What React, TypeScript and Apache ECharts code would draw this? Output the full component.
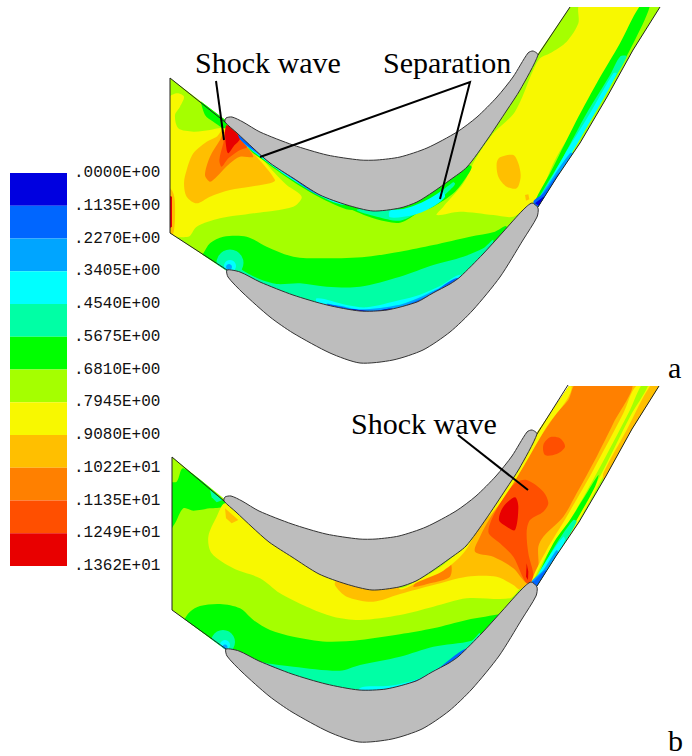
import React, { useEffect, useRef } from "react";
import * as echarts from "echarts";

type P = number[][];
// helpers: read-off units of the magnified inspections, expressed in plot units
const pairs = (ox: number, oy: number, a: number[]): P => {
  const r: P = [];
  for (let i = 0; i < a.length; i += 2) r.push([ox + a[i] / 3, oy + a[i + 1] / 3]);
  return r;
};
const z1 = (...a: number[]) => pairs(160, 0, a);
const z2 = (...a: number[]) => pairs(400, 0, a);
const z3 = (...a: number[]) => pairs(160, 440, a);
const z4 = (...a: number[]) => pairs(400, 380, a);
const shift = (p: P, dx: number, dy: number): P => p.map(([x, y]) => [x + dx, y + dy]);

const levelColors = ["#0000e0", "#0066ff", "#00a5ff", "#00ffff", "#00ffa5", "#00ff00", "#a5ff00", "#f8f800", "#ffbf00", "#ff8000", "#ff4f00", "#e80000"];
const legendLabels = [".0000E+00", ".1135E+00", ".2270E+00", ".3405E+00", ".4540E+00", ".5675E+00", ".6810E+00", ".7945E+00", ".9080E+00", ".1022E+01", ".1135E+01", ".1249E+01", ".1362E+01"];

const upperBladeA: P = [[225, 122], [226, 118], [232, 117], [243, 122], [260, 132], [293, 145], [327, 155], [360, 160], [377, 160], [400, 157], [427, 148], [457, 132], [477, 117], [497, 97], [513, 77], [528, 53], [533, 51], [538, 55], [520, 90], [507, 110], [487, 140], [467, 167], [450, 180], [433, 192], [417, 202], [400, 208], [373, 211], [347, 205], [320, 195], [293, 178], [270, 163], [253, 148], [237, 133]];
const lowerBladeA: P = [[227, 270], [240, 272], [260, 282], [293, 295], [327, 305], [360, 311], [387, 310], [417, 302], [433, 293], [450, 284], [460, 277], [483, 254], [503, 232], [523, 210], [532, 203], [538, 208], [537, 217], [523, 240], [500, 277], [473, 310], [450, 332], [423, 350], [393, 360], [360, 363], [330, 353], [293, 333], [270, 317], [243, 293], [228, 277]];
const rightWallA: P = [[538, 207], [557, 177], [580, 143], [607, 97], [633, 50], [660, 7]];
const clipMidA: P = [[228, 122], [260, 143], [330, 175], [377, 185], [427, 175], [470, 150], [510, 95], [537, 55], [570, 7], [660, 7], [633, 50], [607, 97], [580, 143], [557, 177], [538, 207], [530, 215], [500, 250], [460, 290], [400, 335], [360, 340], [300, 315], [260, 295], [232, 275], [227, 271]];
const inletA: P = [[170, 78], [170, 233]];
const inletB: P = [[172, 457], [172, 610]];

const aRegions: [number, P][] = [
  [6, [[150, 0], [680, 0], [680, 300], [150, 300]]],
  [5, z1(125, 300, 200, 360, 195, 385, 160, 365, 135, 345)],
  [7, z1(20, 300, 50, 280, 72, 290, 60, 320, 45, 345, 55, 385, 100, 395, 150, 390, 190, 385, 240, 420, 300, 470, 345, 520, 380, 555, 425, 590, 400, 620, 280, 640, 180, 655, 110, 680, 85, 710, 20, 695)],
  [8, z1(72, 550, 80, 510, 100, 460, 140, 425, 170, 410, 190, 390, 240, 420, 290, 470, 345, 540, 330, 550, 270, 560, 210, 570, 150, 590, 110, 610, 80, 590)],
  [9, z1(135, 525, 150, 470, 180, 420, 195, 395, 240, 420, 280, 470, 240, 470, 210, 490, 170, 530, 150, 545)],
  [10, z1(178, 480, 190, 430, 200, 385, 235, 410, 262, 440, 240, 450, 205, 475, 185, 500)],
  [11, z1(200, 450, 195, 400, 200, 375, 215, 385, 240, 415, 220, 440, 205, 460)],
  [8, z1(20, 560, 38, 575, 45, 610, 40, 700, 20, 700)],
  [11, z1(20, 585, 36, 590, 36, 680, 20, 690)],
  [7, [...z2(110, 645, 180, 635, 280, 645, 340, 650, 385, 615, 410, 600, 430, 560, 470, 470, 560, 330, 650, 160, 722, 15, 540, 15, 535, 70, 500, 125, 450, 160, 420, 175, 400, 210, 345, 335, 280, 400, 225, 480, 190, 550, 130, 620)]],
  [8, z2(290, 490, 300, 472, 340, 465, 355, 490, 362, 530, 350, 565, 320, 560, 295, 530)],
  [8, z2(375, 585, 385, 583, 388, 598, 378, 602)],
  [5, [...z2(722, 15, 660, 130, 590, 250, 520, 380, 450, 520, 405, 605), ...z2(415, 620, 470, 530, 560, 380, 640, 240, 700, 130, 750, 15)]],
  [4, z2(660, 170, 630, 225, 560, 340, 490, 470, 430, 570, 410, 610, 420, 620, 470, 530, 540, 410, 610, 290, 680, 170)],
  [3, z2(640, 220, 570, 340, 490, 470, 440, 560, 410, 610, 420, 620, 480, 520, 550, 400, 625, 270, 650, 220)],
  [2, z2(510, 460, 460, 530, 420, 590, 410, 612, 420, 620, 460, 550, 520, 460)],
  [1, z2(475, 520, 430, 580, 400, 605, 415, 620, 450, 570, 480, 525)],
  [0, z2(430, 590, 405, 610, 418, 618, 438, 590)],
  [5, [...z1(130, 760, 150, 730, 190, 710, 260, 710, 320, 740, 400, 770, 500, 775, 620, 770, 720, 755), ...z2(100, 735, 210, 710, 285, 695, 320, 680, 320, 800, 0, 1100), ...z1(200, 1000, 100, 800)]],
  [4, [...z1(215, 790, 250, 812, 300, 838, 350, 852, 420, 850, 500, 860, 600, 860, 720, 830), ...z2(100, 795, 190, 770, 250, 745, 280, 720, 260, 800, 0, 1050), ...z1(300, 1000, 200, 850)]],
  [3, [...z1(470, 895, 560, 915, 620, 922, 720, 900), ...z2(60, 884, 120, 858, 180, 824, 200, 850, 100, 920, 0, 950), ...z1(620, 960, 480, 930)]],
  [2, [...z1(520, 915, 600, 928, 720, 914), ...z2(60, 892, 120, 866, 130, 890, 0, 960), ...z1(600, 960, 510, 930)]],
  [1, [...z1(500, 912, 600, 931, 700, 927), ...z2(60, 898, 100, 877, 170, 834, 200, 850, 60, 930), ...z1(600, 960)]],
  [0, z1(560, 929, 640, 934, 700, 927, 700, 960, 560, 960)],
  [5, [...z1(540, 610, 600, 640, 650, 658, 720, 668), ...z2(60, 635, 100, 620, 160, 580, 200, 530, 215, 500, 195, 495, 150, 530, 90, 560, 0, 590), ...z1(640, 600, 560, 590)]],
  [4, [...z1(590, 630, 650, 650, 720, 662), ...z2(50, 640, 100, 610, 150, 570, 165, 550, 130, 540, 50, 590, 0, 600), ...z1(640, 620)]],
  [3, z2(-30, 652, 40, 645, 90, 625, 135, 590, 120, 570, 50, 605, -30, 632)],
  [5, z2(-60, 625, 0, 628, 40, 618, 90, 595, 135, 565, 180, 525, 160, 510, 90, 560, 0, 590, -60, 600)],
  [5, z1(270, 450, 300, 474, 400, 545, 500, 603, 580, 630, 600, 590, 400, 500, 300, 430, 235, 390)],
  [3, z1(252, 430, 300, 470, 400, 541, 500, 598, 560, 615, 600, 590, 400, 500, 300, 430, 235, 390)],
  [2, z1(245, 423, 300, 467, 400, 538, 480, 587, 600, 590, 400, 500, 300, 430, 235, 390)],
  [1, z1(240, 418, 300, 464, 400, 536, 470, 578, 600, 590, 400, 500, 300, 430, 235, 390)],
];

const bRegions: [number, P][] = [
  [6, [[150, 380], [680, 380], [680, 680], [150, 680]]],
  [5, z3(70, 85, 195, 185, 190, 200, 150, 205, 100, 212, 70, 205, 45, 250, 25, 275, 25, 130, 50, 125)],
  [4, z3(150, 150, 188, 180, 170, 187, 155, 172)],
  [7, [...z3(195, 190, 170, 230, 145, 290, 155, 340, 220, 385, 300, 415, 360, 460, 440, 500, 520, 530, 600, 540, 720, 525), ...z4(100, 680, 200, 655, 330, 655, 360, 625, 380, 600, 420, 560, 300, 250, 100, 500, 0, 580), ...z3(600, 410, 400, 340, 250, 230)]],
  [8, z3(195, 205, 235, 240, 215, 250, 198, 235)],
  [8, [...z3(525, 436, 560, 470, 640, 485, 720, 462), ...z4(100, 615, 200, 590, 290, 590, 340, 615, 358, 628, 385, 612, 410, 610, 440, 540, 540, 370, 620, 220, 715, 15, 500, 5, 420, 130, 300, 270, 200, 450, 100, 540, 0, 600), ...z3(600, 420, 530, 420)]],
  [9, z3(760, 440, 810, 430, 870, 410, 870, 370, 800, 400)],
  [9, z4(225, 515, 240, 470, 270, 415, 340, 310, 410, 190, 470, 100, 505, 60, 530, 10, 695, 10, 640, 130, 590, 230, 530, 340, 490, 410, 430, 470, 415, 500, 415, 560, 400, 600, 380, 610, 340, 565, 280, 530)],
  [10, z4(265, 455, 300, 370, 345, 310, 380, 300, 430, 335, 445, 370, 430, 395, 390, 420, 380, 455, 385, 520, 400, 590, 380, 610, 340, 530, 300, 490)],
  [10, z4(430, 195, 450, 172, 480, 175, 495, 200, 470, 222, 435, 225)],
  [11, z4(297, 420, 310, 380, 345, 352, 355, 380, 345, 450, 320, 440)],
  [11, z4(378, 590, 380, 550, 385, 575, 384, 600)],
  [7, z4(490, 20, 515, 20, 500, 60, 440, 140, 370, 260, 300, 370, 240, 440, 190, 520, 130, 572, 60, 603, 0, 628, 0, 580, 100, 520, 220, 420, 320, 280, 400, 150, 470, 10)],
  [6, z4(0, 624, 60, 597, 120, 562, 180, 510, 228, 445, 320, 300, 400, 150, 220, 420, 100, 520, 0, 580)],
  [7, [...z4(712, 15, 670, 100, 580, 270, 500, 410, 440, 510, 395, 605), ...z4(415, 620, 470, 535, 560, 380, 650, 220, 790, 10)]],
  [6, [...z4(725, 15, 690, 90, 590, 280, 510, 420, 450, 510, 400, 605), ...z4(412, 620, 465, 530, 540, 400, 610, 270, 690, 110, 745, 15)]],
  [8, z4(755, 12, 680, 150, 610, 280, 612, 300, 650, 240, 790, 10)],
  [5, z4(595, 285, 560, 340, 510, 420, 460, 490, 410, 600, 415, 615, 470, 525, 530, 420, 585, 320)],
  [4, z4(520, 420, 470, 490, 425, 570, 405, 610, 420, 620, 470, 530, 530, 425)],
  [3, z4(490, 470, 440, 540, 405, 605, 418, 620, 470, 530, 495, 480)],
  [2, z4(470, 510, 430, 570, 395, 605, 410, 622, 440, 575, 475, 520)],
  [1, z4(430, 575, 405, 600, 395, 608, 410, 622, 425, 600, 440, 570)],
  [5, [...z3(70, 545, 90, 515, 120, 498, 180, 492, 240, 505, 280, 540, 330, 570, 400, 590, 500, 605, 600, 600, 720, 583), ...z4(100, 745, 200, 720, 310, 700, 330, 690, 330, 800, 0, 1100), ...z3(300, 900, 60, 600)]],
  [4, [...z3(210, 625, 240, 640, 300, 665, 400, 680, 540, 692, 600, 675, 720, 650), ...z4(100, 800, 215, 782, 240, 760, 240, 860, 0, 1000), ...z3(300, 900, 220, 680)]],
  [3, [...z3(600, 744, 680, 738, 720, 732), ...z4(60, 895, 130, 858, 150, 880, 0, 960), ...z3(600, 780)]],
  [1, [...z3(320, 675, 400, 709, 500, 739, 570, 749, 640, 751, 720, 739), ...z4(100, 875, 200, 805, 220, 830, 50, 950), ...z3(600, 790, 320, 720)]],
  [0, z3(470, 734, 520, 745, 580, 751, 580, 780, 470, 780)],
];

// centre x, centre y, radius, colour level
const bubblesA: number[][] = [[230, 263, 13.5, 4], [230, 266, 6, 3], [229, 267, 3, 2]];
const bubblesB: number[][] = [[223, 642, 12, 4], [225, 645, 5, 3], [225, 647, 2.5, 2]];

const leaderLines: P[] = [
  [[216, 81], [224, 140]],
  [[260, 157], [470, 82], [440, 199]],
  [[458, 435], [528, 490]],
];
// text, left, top of the text box, font size
const annotations: [string, number, number, number][] = [
  ["Shock wave", 195, 47, 30],
  ["Separation", 383, 47, 30],
  ["Shock wave", 351, 408, 30],
  ["a", 668, 352, 30],
  ["b", 668, 725, 30],
];

const toB = (p: P): P => shift(p, -1, 379);
const clipA: P = [inletA[0], ...clipMidA, inletA[1]];
const clipB: P = [inletB[0], ...toB(clipMidA), inletB[1]];
const contourItems = [
  ...aRegions.map(([l, pts]) => ({ l, pts, clip: clipA })),
  ...bubblesA.map(([x, y, r, l]) => ({ l, circle: [x, y, r], clip: clipA })),
  ...bRegions.map(([l, pts]) => ({ l, pts, clip: clipB })),
  ...bubblesB.map(([x, y, r, l]) => ({ l, circle: [x, y, r], clip: clipB })),
];
const blades: P[] = [upperBladeA, lowerBladeA, toB(upperBladeA), toB(lowerBladeA)];
const wallLines: P[] = [
  [upperBladeA[0], inletA[0], inletA[1], lowerBladeA[0]],
  [upperBladeA[17], [570, 7]],
  rightWallA,
  [toB(upperBladeA)[0], inletB[0], inletB[1], toB(lowerBladeA)[0]],
  [toB(upperBladeA)[17], [568, 385]],
  toB(rightWallA),
];

export default function App() {
  const ref = useRef<HTMLDivElement>(null);
  useEffect(() => {
    const chart = echarts.init(ref.current!, undefined, { renderer: "svg" });
    const idx = (a: any[]) => a.map((_, i) => [0, 0, i]);
    const plot = (api: any, p: P) => p.map((q) => api.coord(q));
    const base = { type: "custom", coordinateSystem: "cartesian2d", xAxisIndex: 0, yAxisIndex: 0, clip: false, silent: true };
    chart.setOption({
      animation: false,
      backgroundColor: "#ffffff",
      grid: [
        { left: 0, top: 0, width: 692, height: 756 },
        { left: 10, top: 173, width: 57, height: 393 },
      ],
      xAxis: [
        { type: "value", min: 0, max: 692, show: false },
        { type: "value", min: 0, max: 1, show: false, gridIndex: 1 },
      ],
      yAxis: [
        { type: "value", min: 0, max: 756, inverse: true, show: false },
        {
          type: "category", gridIndex: 1, inverse: true, boundaryGap: false, position: "right", data: legendLabels,
          axisLine: { show: false }, axisTick: { show: false }, splitLine: { show: false },
          axisLabel: { interval: 0, margin: 7, padding: [4, 0, 0, 0], fontFamily: "Liberation Mono", fontSize: 16, color: "#111" },
        },
      ],
      series: [
        {
          ...base,
          data: idx(contourItems),
          renderItem: (p: any, api: any) => {
            const it: any = contourItems[p.dataIndex];
            const clipPath = { type: "polygon", shape: { points: plot(api, it.clip) } };
            const style = { fill: levelColors[it.l], stroke: null };
            if (it.circle) {
              const c = api.coord([it.circle[0], it.circle[1]]);
              return { type: "circle", shape: { cx: c[0], cy: c[1], r: it.circle[2] }, style, clipPath };
            }
            return { type: "polygon", shape: { points: plot(api, it.pts), smooth: it.pts.length > 4 ? 0.3 : 0 }, style, clipPath };
          },
        },
        {
          ...base,
          data: idx(blades),
          renderItem: (p: any, api: any) => ({
            type: "polygon",
            shape: { points: plot(api, blades[p.dataIndex]), smooth: 0.25 },
            style: { fill: "#bdbdbd", stroke: "#333333", lineWidth: 1 },
          }),
        },
        {
          ...base,
          data: idx(wallLines),
          renderItem: (p: any, api: any) => ({
            type: "polyline",
            shape: { points: plot(api, wallLines[p.dataIndex]) },
            style: { fill: null, stroke: "#222222", lineWidth: 1 },
          }),
        },
        {
          ...base,
          data: idx(leaderLines),
          renderItem: (p: any, api: any) => ({
            type: "polyline",
            shape: { points: plot(api, leaderLines[p.dataIndex]) },
            style: { fill: null, stroke: "#000000", lineWidth: 2 },
          }),
        },
        {
          ...base,
          data: idx(annotations),
          renderItem: (p: any, api: any) => {
            const [t, x, y, s] = annotations[p.dataIndex];
            const c = api.coord([x, y]);
            return {
              type: "text",
              style: { text: t, x: c[0], y: c[1], fontFamily: "Liberation Serif", fontSize: s, fill: "#000", align: "left", verticalAlign: "top" },
            };
          },
        },
        {
          type: "custom", coordinateSystem: "cartesian2d", xAxisIndex: 1, yAxisIndex: 1, clip: false, silent: true,
          data: levelColors.map((_, i) => [0, i]),
          renderItem: (p: any, api: any) => {
            const a = api.coord([0, p.dataIndex]);
            const b = api.coord([1, p.dataIndex + 1]);
            return { type: "rect", shape: { x: a[0], y: a[1], width: b[0] - a[0], height: b[1] - a[1] }, style: { fill: levelColors[p.dataIndex] } };
          },
        },
      ],
    });
    return () => chart.dispose();
  }, []);
  return <div ref={ref} style={{ position: "absolute", left: 0, top: 0, width: 692, height: 756 }} />;
}
